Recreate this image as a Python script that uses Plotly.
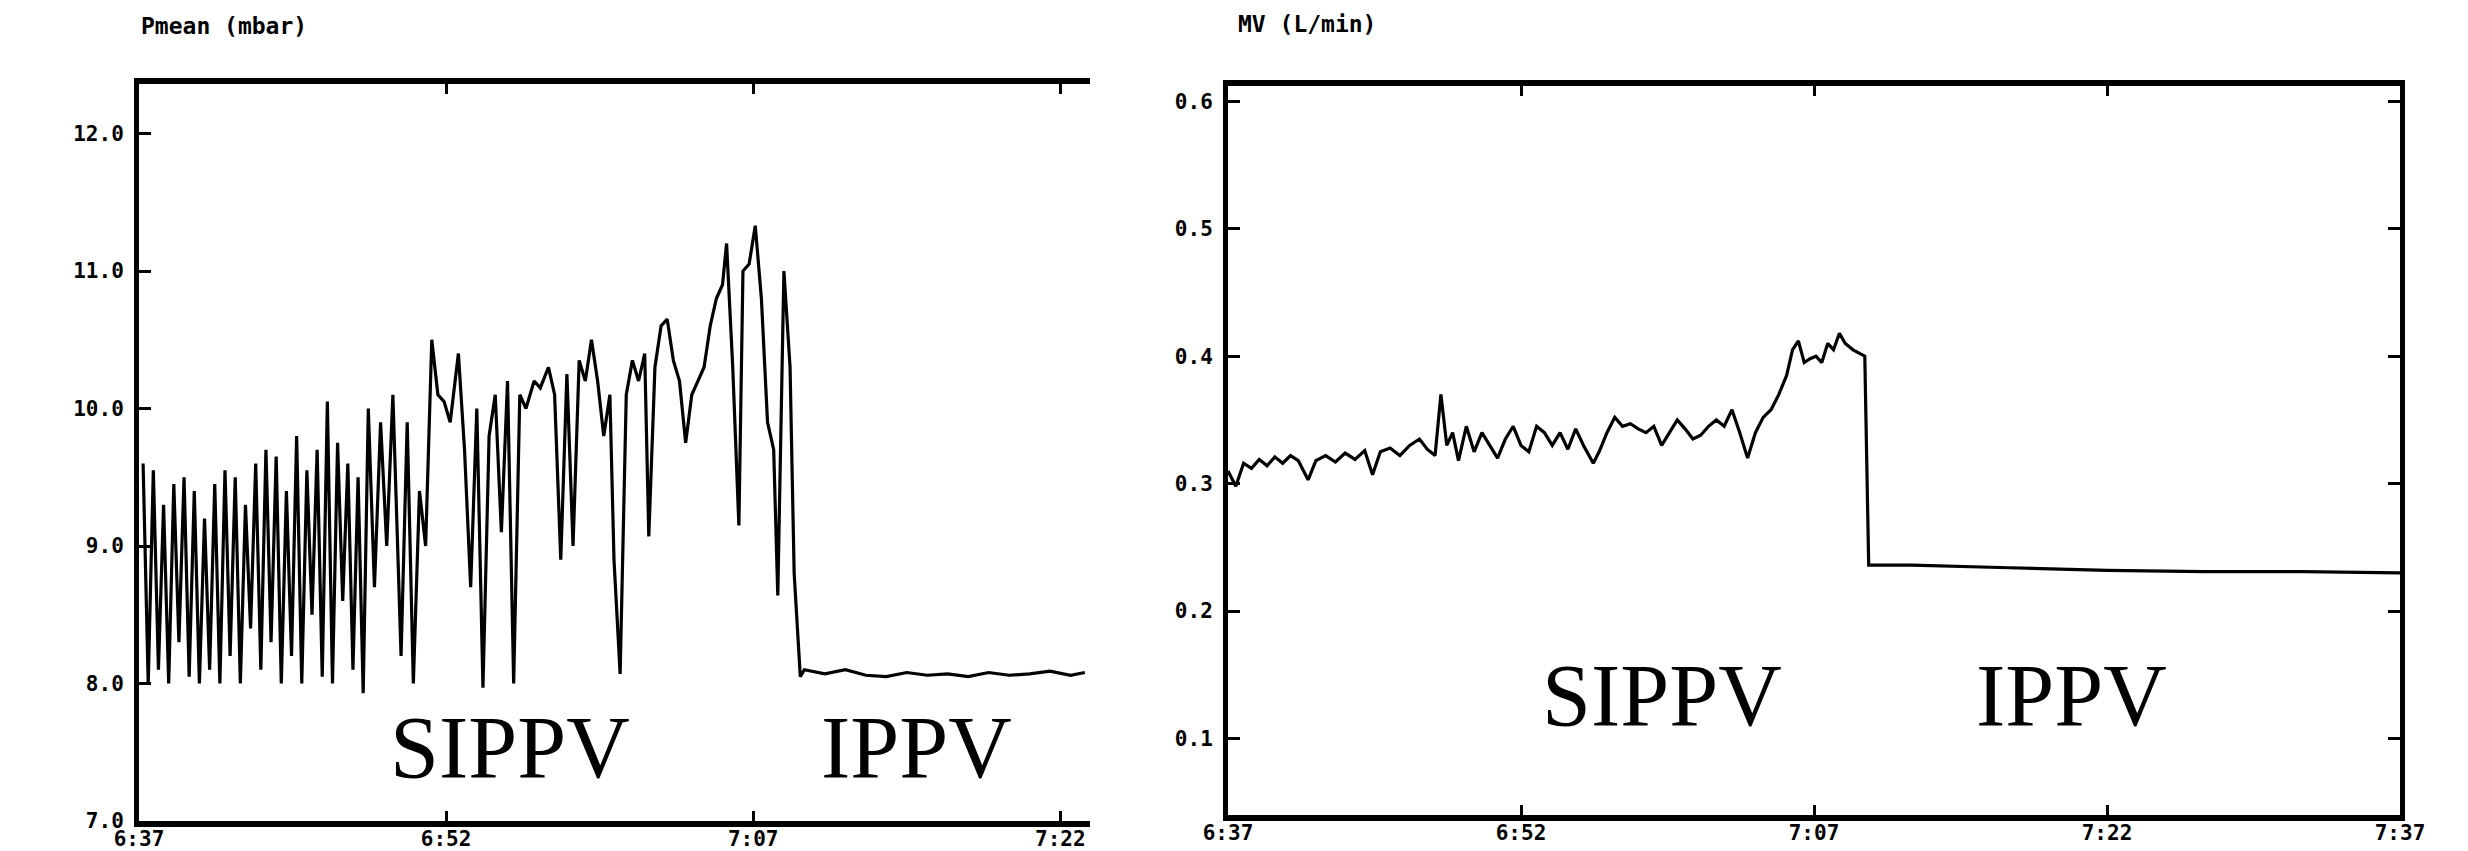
import plotly.graph_objects as go

# ---------------- data ----------------
# Left panel: mean airway pressure (mbar) vs minutes after 6:37
pmean_t = [0.2, 0.45, 0.7, 0.95, 1.2, 1.45, 1.7, 1.95, 2.2, 2.45, 2.7, 2.95, 3.2, 3.45, 3.7,
           3.95, 4.2, 4.45, 4.7, 4.95, 5.2, 5.45, 5.7, 5.95, 6.2, 6.45, 6.7, 6.95, 7.2, 7.45,
           7.7, 7.95, 8.2, 8.45, 8.7, 8.95, 9.2, 9.45, 9.7, 9.95, 10.2, 10.45, 10.7, 10.95,
           11.2, 11.5, 11.8, 12.1, 12.4, 12.8, 13.1, 13.4, 13.7, 14.0,
           14.3, 14.6, 14.9, 15.2, 15.6, 15.9, 16.2, 16.5, 16.8, 17.1, 17.4, 17.7, 18.0, 18.3,
           18.6, 18.9, 19.3, 19.6, 20.0, 20.3, 20.6, 20.9, 21.2, 21.5, 21.8, 22.1, 22.4, 22.7,
           23.0, 23.2, 23.5, 23.8, 24.1, 24.4, 24.7, 24.9, 25.2, 25.5, 25.8, 26.1, 26.4, 26.7,
           27.0, 27.3, 27.6, 27.9, 28.2, 28.5, 28.7, 29.0, 29.3, 29.5, 29.8, 30.1, 30.4, 30.7,
           31.0, 31.2, 31.5, 31.8, 32.0, 32.3,
           32.5, 33.5, 34.5, 35.5, 36.5, 37.5, 38.5, 39.5, 40.5, 41.5, 42.5, 43.5, 44.5, 45.5, 46.2]
pmean_v = [9.6, 8.0, 9.55, 8.1, 9.3, 8.0, 9.45, 8.3, 9.5, 8.05, 9.4, 8.0, 9.2, 8.1, 9.45,
           8.0, 9.55, 8.2, 9.5, 8.0, 9.3, 8.4, 9.6, 8.1, 9.7, 8.3, 9.65, 8.0, 9.4, 8.2,
           9.8, 8.0, 9.55, 8.5, 9.7, 8.05, 10.05, 8.0, 9.75, 8.6, 9.6, 8.1, 9.5, 7.93,
           10.0, 8.7, 9.9, 9.0, 10.1, 8.2, 9.9, 8.0, 9.4, 9.0,
           10.5, 10.1, 10.05, 9.9, 10.4, 9.7, 8.7, 10.0, 7.97, 9.8, 10.1, 9.1, 10.2, 8.0,
           10.1, 10.0, 10.2, 10.15, 10.3, 10.1, 8.9, 10.25, 9.0, 10.35, 10.2, 10.5, 10.2, 9.8,
           10.1, 8.9, 8.07, 10.1, 10.35, 10.2, 10.4, 9.07, 10.3, 10.6, 10.65, 10.35, 10.2, 9.75,
           10.1, 10.2, 10.3, 10.6, 10.8, 10.9, 11.2, 10.3, 9.15, 11.0, 11.05, 11.33, 10.8, 9.9,
           9.7, 8.64, 11.0, 10.3, 8.8, 8.05,
           8.1, 8.07, 8.1, 8.06, 8.05, 8.08, 8.06, 8.07, 8.05, 8.08, 8.06, 8.07, 8.09, 8.06, 8.08]

# Right panel: minute volume (L/min) vs minutes after 6:37
mv_t = [0.0, 0.4, 0.8, 1.2, 1.6, 2.0, 2.4, 2.8, 3.2, 3.6, 4.1, 4.5, 5.0, 5.5, 6.0, 6.5, 7.0,
        7.4, 7.8, 8.3, 8.8, 9.3, 9.8, 10.2, 10.6, 10.9, 11.2, 11.5, 11.8, 12.2, 12.6, 13.0,
        13.4, 13.8, 14.2, 14.6, 15.0, 15.4, 15.8, 16.2, 16.6, 17.0, 17.4, 17.8, 18.2, 18.7,
        19.0, 19.4, 19.8, 20.2, 20.6, 21.0, 21.4, 21.8, 22.2, 22.6, 23.0, 23.4, 23.8, 24.2,
        24.6, 25.0, 25.4, 25.8, 26.2, 26.6, 27.0, 27.4, 27.8, 28.2, 28.6, 28.9, 29.2, 29.5,
        29.8, 30.1, 30.4, 30.7, 31.0, 31.3, 31.6, 32.0, 32.6, 32.8, 35.0, 40.0, 45.0, 50.0,
        55.0, 60.0]
mv_v = [0.31, 0.298, 0.316, 0.312, 0.319, 0.314, 0.321, 0.316, 0.322, 0.318, 0.303, 0.318,
        0.322, 0.317, 0.324, 0.319, 0.326, 0.307, 0.325, 0.328, 0.322, 0.33, 0.335, 0.327,
        0.322, 0.37, 0.33, 0.34, 0.318, 0.345, 0.325, 0.34, 0.33, 0.32, 0.335, 0.345, 0.33,
        0.325, 0.345, 0.34, 0.33, 0.34, 0.327, 0.343, 0.33, 0.316, 0.325, 0.34, 0.352, 0.345,
        0.347, 0.343, 0.34, 0.345, 0.33, 0.34, 0.35, 0.343, 0.335, 0.338, 0.345, 0.35, 0.345,
        0.358, 0.34, 0.32, 0.34, 0.352, 0.358, 0.37, 0.385, 0.405, 0.412, 0.395, 0.398, 0.40,
        0.395, 0.41, 0.405, 0.418, 0.41, 0.405, 0.40, 0.236, 0.236, 0.234, 0.232, 0.231,
        0.231, 0.23]

left_xticks = [0, 15, 30, 45]
left_xlabels = ["6:37", "6:52", "7:07", "7:22"]
right_xticks = [0, 15, 30, 45, 60]
right_xlabels = ["6:37", "6:52", "7:07", "7:22", "7:37"]
left_yticks = [7.0, 8.0, 9.0, 10.0, 11.0, 12.0]
right_yticks = [0.1, 0.2, 0.3, 0.4, 0.5, 0.6]

# ---------------- figure ----------------
W, H = 2468, 851
OFF = 8  # page body margin


def px(x):
    return (x - OFF) / W


def py(y):
    return (H - (y - OFF)) / H


fig = go.Figure()
fig.add_trace(go.Scatter(x=pmean_t, y=pmean_v, mode="lines",
                         line=dict(color="black", width=3.2), xaxis="x", yaxis="y",
                         showlegend=False))
fig.add_trace(go.Scatter(x=mv_t, y=mv_v, mode="lines",
                         line=dict(color="black", width=3.2), xaxis="x2", yaxis="y2",
                         showlegend=False))

tickfont = dict(family="DejaVu Sans Mono", size=21, color="black", weight="bold")
common_x = dict(showgrid=False, zeroline=False, showline=True, linecolor="black",
                linewidth=6, ticks="inside", ticklen=10, tickwidth=3, tickcolor="black",
                mirror="ticks", tickfont=tickfont, automargin=False, ticklabelstandoff=-6)
common_y = dict(showgrid=False, zeroline=False, showline=True, linecolor="black",
                linewidth=5, ticks="inside", ticklen=12, tickwidth=3, tickcolor="black",
                tickfont=tickfont, automargin=False, ticklabelstandoff=6)

fig.update_layout(
    template="none",
    width=W, height=H, autosize=False,
    margin=dict(l=0, r=0, t=0, b=0, pad=0),
    paper_bgcolor="white", plot_bgcolor="white",
    xaxis=dict(domain=[px(139), px(1090)], range=[0, 46.45], anchor="y",
               tickvals=left_xticks, ticktext=left_xlabels, **common_x),
    yaxis=dict(domain=[py(821), py(84)], range=[7.0, 12.36], anchor="x",
               tickvals=left_yticks, ticktext=[f"{v:.1f}" for v in left_yticks],
               mirror=False, **common_y),
    xaxis2=dict(domain=[px(1228), px(2400)], range=[0, 60.0], anchor="y2",
                tickvals=right_xticks, ticktext=right_xlabels, **common_x),
    yaxis2=dict(domain=[py(815), py(86)], range=[0.040, 0.612], anchor="x2",
                tickvals=right_yticks, ticktext=[f"{v:.1f}" for v in right_yticks],
                mirror="ticks", **common_y),
)

titlefont = dict(family="DejaVu Sans Mono", size=23, color="black")
bigfont = dict(family="Liberation Serif", size=88, color="black")
annos = [
    dict(x=px(139), y=py(26), text="<b>Pmean (mbar)</b>", font=titlefont,
         xanchor="left", yanchor="middle"),
    dict(x=px(1236), y=py(24), text="<b>MV (L/min)</b>", font=titlefont,
         xanchor="left", yanchor="middle"),
    dict(x=px(510), y=py(747), text="SIPPV", font=bigfont,
         xanchor="center", yanchor="middle"),
    dict(x=px(916), y=py(747), text="IPPV", font=bigfont,
         xanchor="center", yanchor="middle"),
    dict(x=px(1662), y=py(695), text="SIPPV", font=bigfont,
         xanchor="center", yanchor="middle"),
    dict(x=px(2071), y=py(695), text="IPPV", font=bigfont,
         xanchor="center", yanchor="middle"),
]
for a in annos:
    a.update(xref="paper", yref="paper", showarrow=False)
fig.update_layout(annotations=annos)

fig.write_html("out.html")
